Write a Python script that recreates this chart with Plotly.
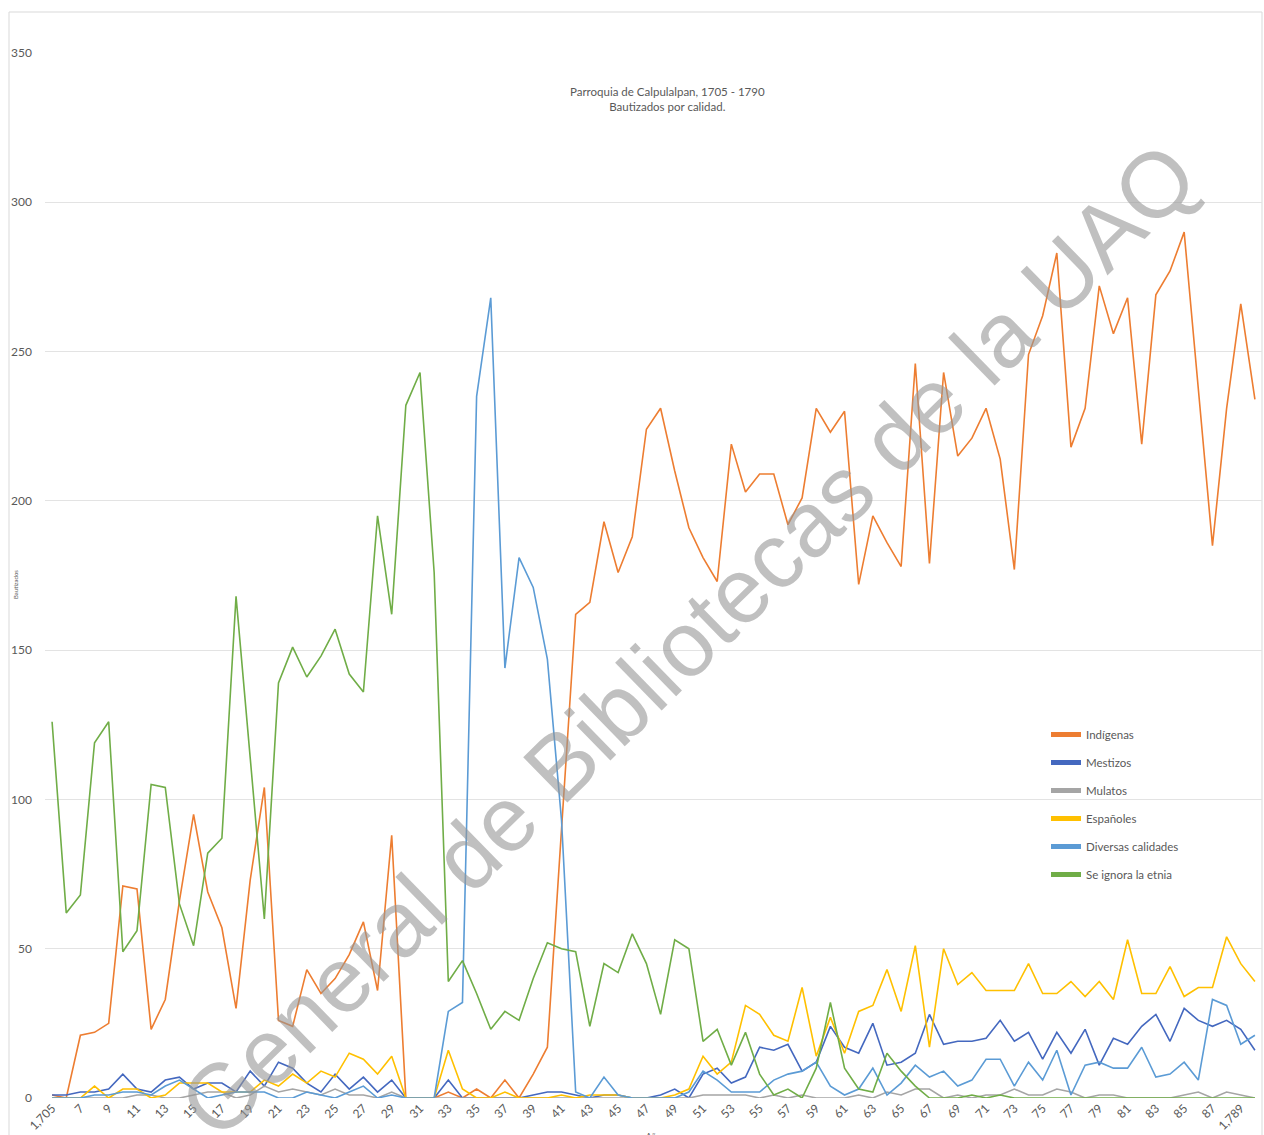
import plotly.graph_objects as go

years = list(range(1705, 1791))

indigenas = [1, 0, 21, 22, 25, 71, 70, 23, 33, 66, 95, 69, 57, 30, 73, 104, 26, 24, 43, 35,
             40, 48, 59, 36, 88, 0, 0, 0, 2, 0, 3, 0, 6, 0, 8, 17, 90, 162, 166, 193,
             176, 188, 224, 231, 210, 191, 181, 173, 219, 203, 209, 209, 192, 201, 231, 223, 230, 172, 195, 186,
             178, 246, 179, 243, 215, 221, 231, 214, 177, 249, 262, 283, 218, 231, 272, 256, 268, 219, 269, 277,
             290, 237, 185, 231, 266, 234]

mestizos = [1, 1, 2, 2, 3, 8, 3, 2, 6, 7, 3, 5, 5, 2, 9, 4, 12, 10, 5, 2,
            8, 3, 7, 2, 6, 0, 0, 0, 6, 0, 0, 0, 0, 0, 1, 2, 2, 1, 0, 1,
            1, 0, 0, 1, 3, 0, 8, 10, 5, 7, 17, 16, 18, 9, 12, 24, 17, 15, 25, 11,
            12, 15, 28, 18, 19, 19, 20, 26, 19, 22, 13, 22, 15, 23, 11, 20, 18, 24, 28, 19,
            30, 26, 24, 26, 23, 16]

mulatos = [0, 0, 0, 0, 0, 0, 1, 1, 0, 0, 1, 2, 2, 0, 1, 4, 2, 3, 2, 1,
           3, 1, 1, 0, 2, 0, 0, 0, 0, 0, 0, 0, 0, 0, 0, 0, 0, 0, 0, 0,
           0, 0, 0, 0, 0, 0, 1, 1, 1, 1, 0, 1, 0, 1, 0, 0, 0, 1, 0, 2,
           1, 3, 3, 0, 1, 0, 1, 1, 3, 1, 1, 3, 2, 0, 1, 1, 0, 0, 0, 0,
           1, 2, 0, 2, 1, 0]

espanoles = [0, 0, 0, 4, 0, 3, 3, 0, 1, 5, 5, 5, 2, 2, 2, 6, 4, 8, 5, 9,
             7, 15, 13, 8, 14, 0, 0, 0, 16, 3, 0, 0, 2, 0, 0, 0, 1, 0, 1, 1,
             1, 0, 0, 0, 1, 3, 14, 8, 12, 31, 28, 21, 19, 37, 14, 27, 15, 29, 31, 43,
             29, 51, 17, 50, 38, 42, 36, 36, 36, 45, 35, 35, 39, 34, 39, 33, 53, 35, 35, 44,
             34, 37, 37, 54, 45, 39]

diversas = [0, 0, 0, 1, 1, 2, 2, 1, 4, 6, 3, 0, 1, 2, 2, 2, 0, 0, 2, 1,
            0, 2, 4, 0, 1, 0, 0, 0, 29, 32, 235, 268, 144, 181, 171, 147, 93, 2, 0, 7,
            1, 0, 0, 0, 0, 2, 9, 6, 2, 2, 2, 6, 8, 9, 12, 4, 1, 3, 10, 1,
            5, 11, 7, 9, 4, 6, 13, 13, 4, 12, 6, 16, 1, 11, 12, 10, 10, 17, 7, 8,
            12, 6, 33, 31, 18, 21]

se_ignora = [126, 62, 68, 119, 126, 49, 56, 105, 104, 65, 51, 82, 87, 168, 114, 60, 139, 151, 141, 148,
             157, 142, 136, 195, 162, 232, 243, 176, 39, 46, 35, 23, 29, 26, 40, 52, 50, 49, 24, 45,
             42, 55, 45, 28, 53, 50, 19, 23, 11, 22, 8, 1, 3, 0, 10, 32, 10, 3, 2, 15,
             9, 4, 0, 0, 0, 1, 0, 1, 0, 0, 0, 0, 0, 0, 0, 0, 0, 0, 0, 0,
             0, 0, 0, 0, 0, 0]

series_names = ["Indígenas", "Mestizos", "Mulatos", "Españoles", "Diversas calidades", "Se ignora la etnia"]
series_values = [indigenas, mestizos, mulatos, espanoles, diversas, se_ignora]
series_colors = ["#ED7D31", "#4468BF", "#A5A5A5", "#FFC000", "#5B9BD5", "#70AD47"]

tick_vals = list(range(1705, 1790, 2))
tick_text = ["1,705"] + [str(y % 100) for y in tick_vals[1:-1]] + ["1,789"]

FONT = "Lato, 'Open Sans', sans-serif"
GREY = "#595959"

fig = go.Figure()
for name, vals, col in zip(series_names, series_values, series_colors):
    fig.add_trace(go.Scatter(x=years, y=vals, mode="lines", name=name, legendgroup=name,
                             line=dict(color=col, width=1.6)))

W, H = 1264, 1135
L, R, T, B = 45, 2, 53, 37
PW, PH = W - L - R, H - T - B


def px(x):
    return (x - L) / PW


def py(y):
    return (H - B - y) / PH


fig.update_layout(
    width=W, height=H,
    margin=dict(l=L, r=R, t=T, b=B, autoexpand=False),
    paper_bgcolor="white", plot_bgcolor="white",
    font=dict(family=FONT, color=GREY, size=12),
    showlegend=True,
    legend=dict(x=px(1046), y=py(720),
                xanchor="left", yanchor="top",
                font=dict(size=11.5, color=GREY, family=FONT),
                bgcolor="rgba(0,0,0,0)", tracegroupgap=9, itemwidth=30,
                itemsizing="constant"),
    xaxis=dict(range=[1704.5, 1790.5], tickmode="array", tickvals=tick_vals, ticktext=tick_text,
               tickangle=-45, showgrid=False, zeroline=False, showline=False,
               tickfont=dict(size=12, color=GREY), automargin=False, ticks=""),
    yaxis=dict(range=[0, 350], tickvals=[0, 50, 100, 150, 200, 250, 300, 350],
               showgrid=True, gridcolor="#E3E3E3", gridwidth=1, zeroline=False, showline=False,
               tickfont=dict(size=12, color=GREY), automargin=False, ticks="",
               ticklabelstandoff=12),
)

# outer chart border
fig.add_shape(type="rect", xref="paper", yref="paper",
              x0=px(9), x1=px(1262), y0=py(1200), y1=py(12),
              line=dict(color="#D9D9D9", width=1), fillcolor="rgba(0,0,0,0)", layer="below")

# title
fig.add_annotation(text="Parroquia de Calpulalpan, 1705 - 1790<br>Bautizados por calidad.",
                   xref="paper", yref="paper", x=px(667), y=py(99),
                   showarrow=False, font=dict(size=11.5, color=GREY, family=FONT),
                   xanchor="center", yanchor="middle", align="center")

# y-axis title
fig.add_annotation(text="Bautizados", xref="paper", yref="paper", x=px(15), y=py(585),
                   showarrow=False, textangle=-90, font=dict(size=6, color=GREY, family=FONT),
                   xanchor="center", yanchor="middle")

# x-axis title (cut off at the bottom)
fig.add_annotation(text="Años", xref="paper", yref="paper", x=px(655), y=py(1136),
                   showarrow=False, font=dict(size=8, color=GREY, family=FONT),
                   xanchor="center", yanchor="middle")

# watermark
fig.add_annotation(text="General de Bibliotecas de la UAQ", xref="paper", yref="paper",
                   x=px(688), y=py(640),
                   showarrow=False, textangle=-44.3,
                   font=dict(size=92, color="rgba(150,150,150,0.6)", family="Liberation Sans, Arial, sans-serif"),
                   xanchor="center", yanchor="middle")

fig.write_html("out.html", config={"displayModeBar": False},
               post_script="document.body.style.margin='0';document.body.style.padding='0';")
